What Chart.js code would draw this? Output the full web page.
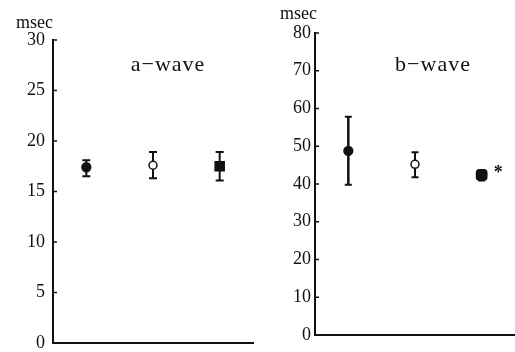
<!DOCTYPE html>
<html>
<head>
<meta charset="utf-8">
<script src="https://cdn.jsdelivr.net/npm/chart.js@4/dist/chart.umd.min.js"></script>
<style>
body { margin: 0; background: #fff; }
#wrap { position: relative; width: 515px; height: 352px; }
.box { position: absolute; top: 0; height: 352px; }
</style>
</head>
<body>
<div id="wrap">
	<div class="box" style="left:0;width:258px"><canvas id="chartA"></canvas></div>
	<div class="box" style="left:258px;width:257px"><canvas id="chartB"></canvas></div>
</div>
<script>
// groups (filled circle, open circle, filled square)
var groups = ['1', '2', '3'];

// a-wave latency (msec)
var aMean = [17.4, 17.6, 17.5];
var aLow  = [16.5, 16.3, 16.1];
var aHigh = [18.1, 18.9, 18.9];
var aMax = 30, aStep = 5;

// b-wave latency (msec)
var bMean = [48.8, 45.2, 42.4];
var bLow  = [39.8, 41.8, 40.9];
var bHigh = [57.8, 48.4, 43.7];
var bMax = 80, bStep = 10;

var serif = '"Liberation Serif", "Times New Roman", serif';

function makeExtras(cfg) {
	return {
		id: 'extras',
		beforeDatasetsDraw: function(chart) {
			var ctx = chart.ctx, xs = chart.scales.x, ys = chart.scales.y;
			ctx.save();
			ctx.strokeStyle = '#111';
			for (var i = 0; i < cfg.low.length; i++) {
				var x = xs.getPixelForValue(i);
				var y1 = ys.getPixelForValue(cfg.low[i]);
				var y2 = ys.getPixelForValue(cfg.high[i]);
				ctx.lineWidth = cfg.barWidth[i];
				ctx.beginPath();
				ctx.moveTo(x, y1); ctx.lineTo(x, y2);
				ctx.stroke();
				ctx.lineWidth = 2;
				ctx.beginPath();
				ctx.moveTo(x - cfg.cap, y1); ctx.lineTo(x + cfg.cap, y1);
				ctx.moveTo(x - cfg.cap, y2); ctx.lineTo(x + cfg.cap, y2);
				ctx.stroke();
			}
			ctx.restore();
		},
		afterDraw: function(chart) {
			var ctx = chart.ctx, ys = chart.scales.y, xs = chart.scales.x, area = chart.chartArea;
			ctx.save();
			// tick marks point inward
			ctx.strokeStyle = '#111';
			ctx.lineWidth = 1.5;
			ys.ticks.forEach(function(t) {
				var y = ys.getPixelForValue(t.value);
				ctx.beginPath();
				ctx.moveTo(area.left, y); ctx.lineTo(area.left + 4, y);
				ctx.stroke();
			});
			ctx.fillStyle = '#111';
			ctx.font = '18px ' + serif;
			ctx.textAlign = 'right';
			ctx.fillText('msec', area.left + cfg.unitDx, cfg.unitY);
			ctx.font = '22px ' + serif;
			ctx.textAlign = 'center';
			ctx.letterSpacing = '1px';
			ctx.fillText(cfg.title, area.left + cfg.titleDx, cfg.titleY);
			ctx.letterSpacing = '0px';
			if (cfg.star !== undefined) {
				var px = xs.getPixelForValue(cfg.star);
				var py = ys.getPixelForValue(cfg.mean[cfg.star]);
				ctx.font = 'bold 18px ' + serif;
				ctx.textAlign = 'left';
				ctx.fillText('*', px + 12, py + 3);
			}
			ctx.restore();
		}
	};
}

function makeChart(id, mean, max, step, pad, labelPad, axisW, extras) {
	return new Chart(document.getElementById(id), {
		type: 'line',
		data: {
			labels: groups,
			datasets: [{
				data: mean,
				showLine: false,
				pointStyle: ['circle', 'circle', extras.lastStyle],
				pointRadius: [4.4, 4, extras.lastRadius],
				pointBackgroundColor: ['#111', '#fff', '#111'],
				pointBorderColor: '#111',
				pointBorderWidth: 1.5
			}]
		},
		options: {
			responsive: true,
			maintainAspectRatio: false,
			animation: false,
			layout: { padding: pad, autoPadding: false },
			plugins: { legend: { display: false }, tooltip: { enabled: false } },
			scales: {
				x: {
					offset: true,
					ticks: { display: false },
					grid: { display: false, drawTicks: false },
					border: { display: true, width: 2, color: '#111' },
					afterFit: function(s) { s.height = 0; s.paddingLeft = 0; s.paddingRight = 0; }
				},
				y: {
					min: 0,
					max: max,
					ticks: { stepSize: step, padding: labelPad, color: '#111', font: { family: serif, size: 18 } },
					grid: { display: false, drawTicks: false },
					border: { display: true, width: 2, color: '#111' },
					afterFit: function(s) { s.width = axisW; s.paddingTop = 0; s.paddingBottom = 0; }
				}
			}
		},
		plugins: [makeExtras(extras)]
	});
}

makeChart('chartA', aMean, aMax, aStep, { top: 40, bottom: 9, left: 0, right: 5 }, 8, 53, {
	low: aLow, high: aHigh, mean: aMean, barWidth: [2, 2, 2], cap: 4,
	title: 'a\u2212wave', titleDx: 115, titleY: 71, unitDx: 0, unitY: 28,
	lastStyle: 'rect', lastRadius: 6.4
});

makeChart('chartB', bMean, bMax, bStep, { top: 33, bottom: 17, left: 0, right: 0 }, 4, 57, {
	low: bLow, high: bHigh, mean: bMean, barWidth: [2.5, 2, 2], cap: 3.5,
	title: 'b\u2212wave', titleDx: 118, titleY: 71, unitDx: 2, unitY: 19,
	lastStyle: 'rectRounded', lastRadius: 6, star: 2
});
</script>
</body>
</html>
